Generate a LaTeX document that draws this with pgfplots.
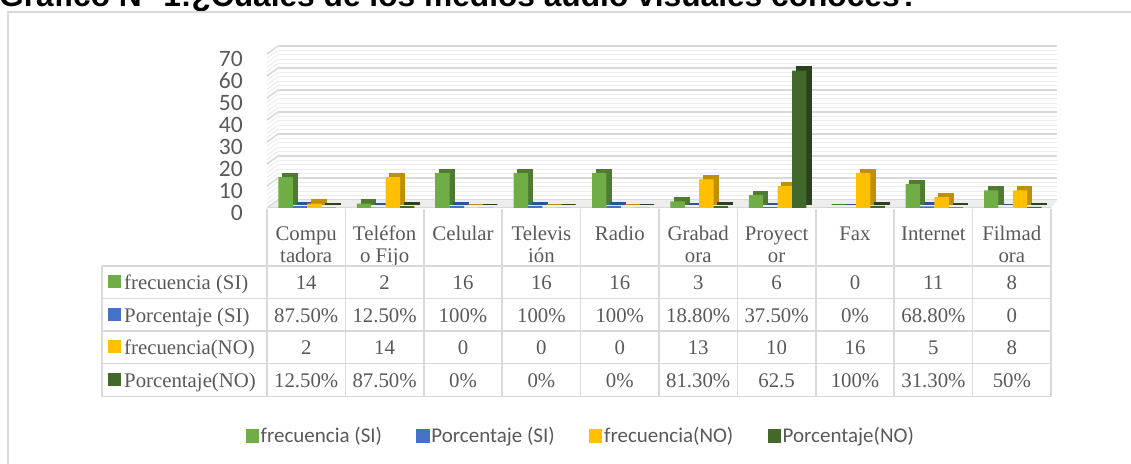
\documentclass[border=0pt]{standalone}
\usepackage{fontspec}
\setmainfont{Liberation Serif}
\newfontfamily\calibri{Carlito}
\newfontfamily\arial{Liberation Sans}
\usepackage{pgfplots}
\usepackage{pgfplotstable}
\pgfplotsset{compat=1.18}
\definecolor{cG}{HTML}{70AD47}
\definecolor{cGs}{HTML}{4E7A31}
\definecolor{cB}{HTML}{4472C4}
\definecolor{cBs}{HTML}{2F5496}
\definecolor{cY}{HTML}{FFC000}
\definecolor{cYs}{HTML}{BF9000}
\definecolor{cD}{HTML}{43682B}
\definecolor{cDs}{HTML}{2B431C}
\definecolor{txt}{HTML}{595959}
\definecolor{gridc}{HTML}{D9D9D9}
\definecolor{gridm}{HTML}{EDEDED}
\pgfplotstableread{
x fsi psi fno pno
0 14 0.875 2 0.125
1 2 0.125 14 0.875
2 16 1 0 0
3 16 1 0 0
4 16 1 0 0
5 3 0.188 13 0.813
6 6 0.375 10 62.5
7 0 0 16 1
8 11 0.688 5 0.313
9 8 0 8 0.5
}\datatab
\begin{document}
\begin{tikzpicture}[x=1pt,y=1pt]
\useasboundingbox (0,0) rectangle (1131,463);
\clip (0,0) rectangle (1131,463);
% title (cut at top)
\node[anchor=base west, inner sep=0pt, font=\arial\bfseries\fontsize{31.7}{38}\selectfont] at (-1,456.5) {Gráfico N° 1:¿Cuales de los medios audio visuales conoces?};
% frame
\draw[gridc, line width=1.5pt] (8,-5) -- (8,451) -- (1140,451);
% back wall
\begin{axis}[at={(278pt,263pt)}, anchor=south west, scale only axis,
  width=779pt, height=154pt, xmin=-0.5, xmax=9.5, ymin=0, ymax=70,
  axis line style={draw=none}, xtick=\empty, ytick={0,10,...,70}, yticklabels={},
  minor ytick={2,4,...,68}, major tick length=0pt, minor tick length=0pt,
  ymajorgrids, yminorgrids,
  major grid style={gridc, line width=1.5pt},
  minor grid style={gridm, line width=1pt}]
\end{axis}
% floor
\fill[gridm] (267,255) -- (1051,255) -- (1057,263) -- (278,263) -- cycle;
\draw[gridc, line width=1pt] (267,255) -- (1051,255);
% left wall
\foreach \v in {0,2,...,70} \draw[gridm, line width=1pt] (267,255+2.2*\v) -- (278,263+2.2*\v);
\foreach \v in {0,10,...,70} \draw[gridc, line width=1.5pt] (267,255+2.2*\v) -- (278,263+2.2*\v);
% main axis
\begin{axis}[at={(267pt,255pt)}, anchor=south west, scale only axis,
  width=784pt, height=154pt, xmin=-0.5, xmax=9.5, ymin=0, ymax=70,
  axis line style={draw=none}, clip=false,
  xtick={0,...,9},
  xticklabels={\strut Compu\\\strut tadora, \strut Teléfon\\\strut o Fijo, \strut Celular\\\strut, \strut Televis\\\strut ión, \strut Radio\\\strut, \strut Grabad\\\strut ora, \strut Proyect\\\strut or, \strut Fax\\\strut, \strut Internet\\\strut, \strut Filmad\\\strut ora},
  xticklabel style={font=\fontsize{20.8}{22}\selectfont, text=txt, align=center, anchor=base, inner sep=0pt, yshift=-54pt},
  ytick={0,10,...,70}, major tick length=0pt,
  /pgf/number format/assume math mode=true,
  yticklabel style={font=\calibri\fontsize{23.5}{28}\selectfont, text=txt, anchor=east, inner sep=0pt, xshift=-24pt, yshift=-4.5pt},
  legend image code/.code={\fill[#1] (0pt,-6.7pt) rectangle (13.4pt,6.7pt);},
  legend style={at={(axis description cs:0.3999,-1.4805)}, anchor=center, draw=none, fill=none,
    font=\calibri\fontsize{21}{25}\selectfont, text=txt, legend columns=4,
    nodes={inner xsep=1.7pt, inner ysep=0pt},
    /tikz/every even column/.append style={column sep=32.5pt}},
  ]
% side/top faces
\addplot[ybar, bar width=14.4pt, bar shift=-16.1pt, fill=cGs, draw=cGs, line width=1.5pt, yshift=3.5pt, forget plot] table[x=x,y=fsi] {\datatab};
\addplot[ybar, bar width=14.4pt, bar shift=-1.7pt, fill=cBs, draw=cBs, line width=1.5pt, yshift=3.5pt, forget plot] table[x=x,y=psi] {\datatab};
\addplot[ybar, bar width=14.4pt, bar shift=12.7pt, fill=cYs, draw=cYs, line width=1.5pt, yshift=3.5pt, forget plot] table[x=x,y=fno] {\datatab};
\addplot[ybar, bar width=14.4pt, bar shift=27.1pt, fill=cDs, draw=cDs, line width=1.5pt, yshift=3.5pt, forget plot] table[x=x,y=pno] {\datatab};
% fronts
\addplot[ybar, bar width=14.4pt, bar shift=-20.6pt, fill=cG, draw=none] table[x=x,y=fsi] {\datatab};
\addplot[ybar, bar width=14.4pt, bar shift=-6.2pt, fill=cB, draw=none] table[x=x,y=psi] {\datatab};
\addplot[ybar, bar width=14.4pt, bar shift=8.2pt, fill=cY, draw=none] table[x=x,y=fno] {\datatab};
\addplot[ybar, bar width=14.4pt, bar shift=22.6pt, fill=cD, draw=none] table[x=x,y=pno] {\datatab};
\legend{frecuencia (SI), Porcentaje (SI), frecuencia(NO), Porcentaje(NO)}
\end{axis}
% data table
\begin{scope}[gridc, line width=1.5pt]
\foreach \yy in {197,164.5,132,99.5,66.5} \draw (102,\yy) -- (1051,\yy);
\draw (102,66.5) -- (102,197);
\foreach \k in {0,...,10} \draw (267+78.4*\k,66.5) -- (267+78.4*\k,254);
\end{scope}
\begin{scope}[every node/.style={font=\fontsize{20.8}{22}\selectfont, text=txt, inner sep=0pt}]
\foreach \nm/\col/\yy in {frecuencia (SI)/cG/173, Porcentaje (SI)/cB/140.5, frecuencia(NO)/cY/108, Porcentaje(NO)/cD/75.5}{
  \fill[\col] (108,\yy+1.5) rectangle (121,\yy+14.5);
  \node[anchor=base west] at (124,\yy) {\nm};
}
\foreach [count=\i from 0] \t in {14,2,16,16,16,3,6,0,11,8} \node[anchor=base] at (306.2+78.4*\i,173) {\t};
\foreach [count=\i from 0] \t in {87.50\%,12.50\%,100\%,100\%,100\%,18.80\%,37.50\%,0\%,68.80\%,0} \node[anchor=base] at (306.2+78.4*\i,140.5) {\t};
\foreach [count=\i from 0] \t in {2,14,0,0,0,13,10,16,5,8} \node[anchor=base] at (306.2+78.4*\i,108) {\t};
\foreach [count=\i from 0] \t in {12.50\%,87.50\%,0\%,0\%,0\%,81.30\%,62.5,100\%,31.30\%,50\%} \node[anchor=base] at (306.2+78.4*\i,75.5) {\t};
\end{scope}
\end{tikzpicture}
\end{document}
